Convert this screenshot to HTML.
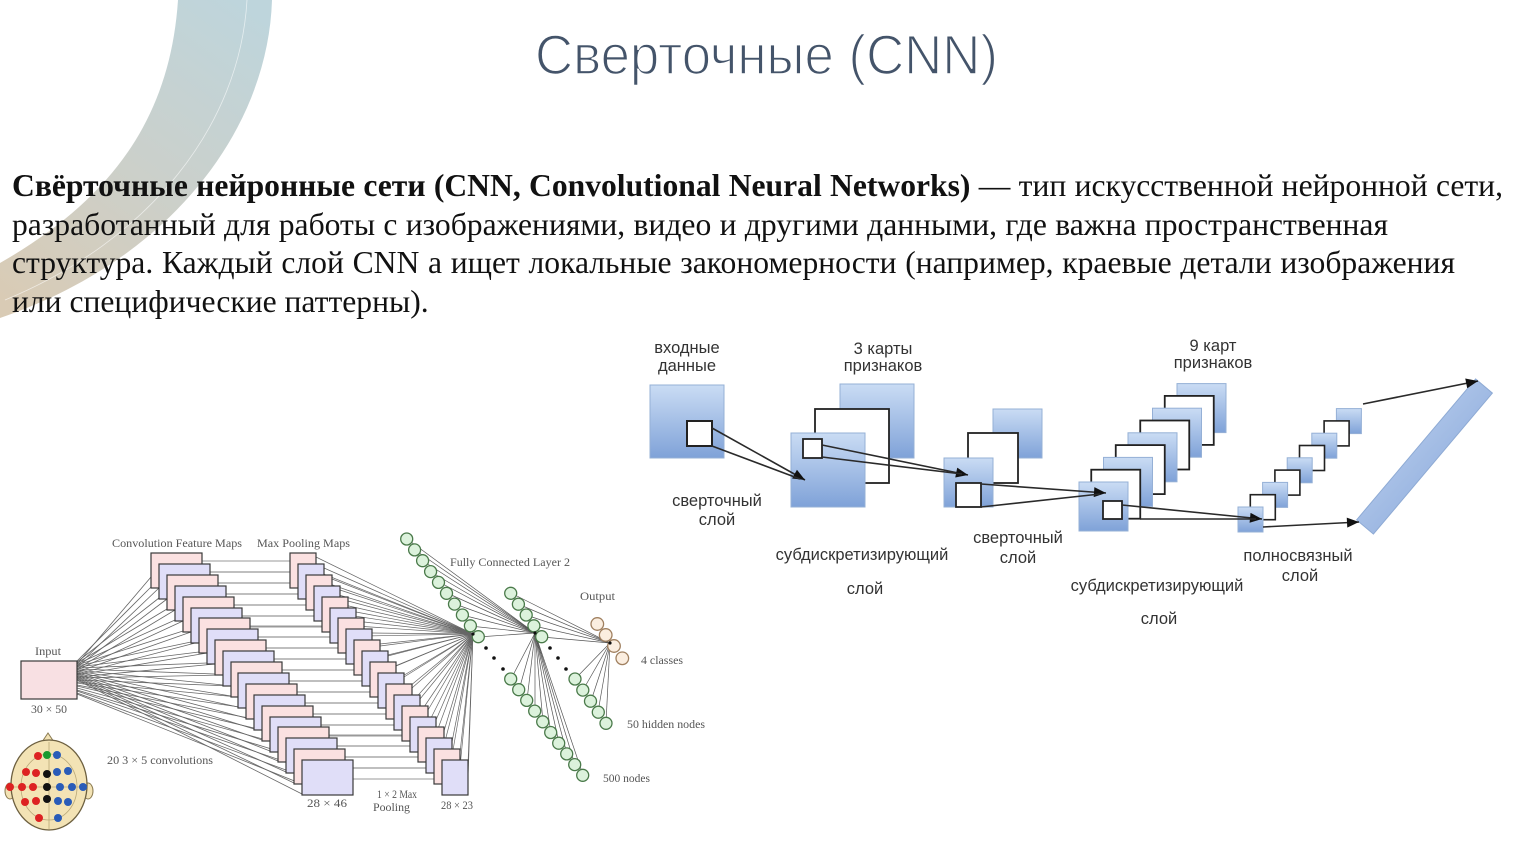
<!DOCTYPE html>
<html><head><meta charset="utf-8">
<style>
html,body{margin:0;padding:0;background:#fff;}
body{width:1533px;height:864px;position:relative;overflow:hidden;}
.ln{position:absolute;left:12px;font-family:"Liberation Serif","DejaVu Serif",serif;font-size:31.6px;line-height:38.5px;color:#111;white-space:nowrap;}
.j{text-align:justify;text-align-last:justify;}
svg{position:absolute;left:0;top:0;}
</style></head><body>
<svg width="1533" height="864" viewBox="0 0 1533 864" xmlns="http://www.w3.org/2000/svg">
<defs>
<linearGradient id="arcg" gradientUnits="userSpaceOnUse" x1="240" y1="0" x2="20" y2="310">
<stop offset="0" stop-color="#bed5dc"/><stop offset="0.5" stop-color="#cbd0cb"/><stop offset="1" stop-color="#d9cbb5"/>
</linearGradient>
<linearGradient id="bl" x1="0" y1="0" x2="0" y2="1">
<stop offset="0" stop-color="#cadcf4"/><stop offset="1" stop-color="#7fa2d8"/>
</linearGradient>
<linearGradient id="barg" x1="0" y1="0" x2="1" y2="1">
<stop offset="0" stop-color="#c8daf3"/><stop offset="1" stop-color="#7e9fd6"/>
</linearGradient>
<marker id="ah" viewBox="0 0 12 10" refX="12" refY="5" markerWidth="13" markerHeight="10" markerUnits="userSpaceOnUse" orient="auto">
<path d="M0,0 L12,5 L0,10 z" fill="#111"/>
</marker>
</defs>

<!-- decorative arc -->
<path d="M272,0 C268,130 170,260 0,318 L0,263 C110,200 170,120 178,0 Z" fill="url(#arcg)"/>
<path d="M247,0 C240,125 150,240 5,300" fill="none" stroke="#fff" stroke-width="0.8" opacity="0.6"/>

<!-- title -->
<text x="535" y="74" font-family="Liberation Sans, sans-serif" font-size="56" fill="#44546a" stroke="#fff" stroke-width="1.6" textLength="463" lengthAdjust="spacingAndGlyphs">Сверточные (CNN)</text>

<!-- ============ RIGHT DIAGRAM ============ -->
<g font-family="Liberation Sans, DejaVu Sans, sans-serif" font-size="16.5" fill="#333" text-anchor="middle">
<text x="687" y="353">входные</text>
<text x="687" y="371">данные</text>
<text x="883" y="354">3 карты</text>
<text x="883" y="371">признаков</text>
<text x="1213" y="351">9 карт</text>
<text x="1213" y="368">признаков</text>
<text x="717" y="506">сверточный</text>
<text x="717" y="525">слой</text>
<text x="862" y="560">субдискретизирующий</text>
<text x="865" y="594">слой</text>
<text x="1018" y="543">сверточный</text>
<text x="1018" y="563">слой</text>
<text x="1157" y="591">субдискретизирующий</text>
<text x="1159" y="624">слой</text>
<text x="1298" y="561">полносвязный</text>
<text x="1300" y="581">слой</text>
</g>

<g stroke="#95b0d6" stroke-width="1">
<rect x="650" y="385" width="74" height="73" fill="url(#bl)"/>
<rect x="840" y="384" width="74" height="74" fill="url(#bl)"/>
</g>
<rect x="815" y="409" width="74" height="74" fill="#fff" stroke="#222" stroke-width="1.8"/>
<rect x="791" y="433" width="74" height="74" fill="url(#bl)" stroke="#95b0d6"/>
<rect x="687" y="421" width="25" height="25" fill="#fff" stroke="#222" stroke-width="2"/>
<rect x="803" y="439" width="19" height="19" fill="#fff" stroke="#222" stroke-width="1.8"/>

<rect x="993" y="409" width="49" height="49" fill="url(#bl)" stroke="#95b0d6"/>
<rect x="968" y="433" width="50" height="50" fill="#fff" stroke="#222" stroke-width="1.8"/>
<rect x="944" y="458" width="49" height="49" fill="url(#bl)" stroke="#95b0d6"/>
<rect x="956" y="483" width="25" height="24" fill="#fff" stroke="#222" stroke-width="1.8"/>

<!-- stage 3 -->
<rect x="1177" y="383.6" width="49" height="49" fill="url(#bl)" stroke="#95b0d6"/>
<rect x="1164.75" y="395.9" width="49" height="49" fill="#fff" stroke="#222" stroke-width="1.8"/>
<rect x="1152.5" y="408.2" width="49" height="49" fill="url(#bl)" stroke="#95b0d6"/>
<rect x="1140.25" y="420.5" width="49" height="49" fill="#fff" stroke="#222" stroke-width="1.8"/>
<rect x="1128" y="432.8" width="49" height="49" fill="url(#bl)" stroke="#95b0d6"/>
<rect x="1115.75" y="445.1" width="49" height="49" fill="#fff" stroke="#222" stroke-width="1.8"/>
<rect x="1103.5" y="457.4" width="49" height="49" fill="url(#bl)" stroke="#95b0d6"/>
<rect x="1091.25" y="469.7" width="49" height="49" fill="#fff" stroke="#222" stroke-width="1.8"/>
<rect x="1079" y="482" width="49" height="49" fill="url(#bl)" stroke="#95b0d6"/>
<rect x="1103" y="501" width="19" height="18" fill="#fff" stroke="#222" stroke-width="1.8"/>

<!-- stage 4 -->
<rect x="1336.4" y="408.6" width="25" height="25" fill="url(#bl)" stroke="#95b0d6"/>
<rect x="1324.1" y="420.9" width="25" height="25" fill="#fff" stroke="#222" stroke-width="1.6"/>
<rect x="1311.8" y="433.2" width="25" height="25" fill="url(#bl)" stroke="#95b0d6"/>
<rect x="1299.5" y="445.5" width="25" height="25" fill="#fff" stroke="#222" stroke-width="1.6"/>
<rect x="1287.2" y="457.8" width="25" height="25" fill="url(#bl)" stroke="#95b0d6"/>
<rect x="1274.9" y="470.1" width="25" height="25" fill="#fff" stroke="#222" stroke-width="1.6"/>
<rect x="1262.6" y="482.4" width="25" height="25" fill="url(#bl)" stroke="#95b0d6"/>
<rect x="1250.3" y="494.7" width="25" height="25" fill="#fff" stroke="#222" stroke-width="1.6"/>
<rect x="1238" y="507" width="25" height="25" fill="url(#bl)" stroke="#95b0d6"/>

<polygon points="1356.6,519.9 1373.4,534.1 1492.4,393.1 1475.6,378.9" fill="url(#barg)" stroke="#8eaad4"/>

<g stroke="#2a2a2a" stroke-width="1.6" fill="none">
<line x1="712" y1="428" x2="805" y2="480" marker-end="url(#ah)"/>
<line x1="712" y1="446" x2="800" y2="479"/>
<line x1="822" y1="445" x2="968" y2="475" marker-end="url(#ah)"/>
<line x1="822" y1="457" x2="962" y2="474"/>
<line x1="981" y1="484" x2="1106" y2="493" marker-end="url(#ah)"/>
<line x1="981" y1="507" x2="1100" y2="494"/>
<line x1="1122" y1="505" x2="1262" y2="519" marker-end="url(#ah)"/>
<line x1="1140" y1="519" x2="1256" y2="519"/>
<line x1="1263" y1="527" x2="1359" y2="522" marker-end="url(#ah)"/>
<line x1="1363" y1="404" x2="1478" y2="381" marker-end="url(#ah)"/>
</g>

<!-- ============ LEFT DIAGRAM ============ -->
<g stroke="#666" stroke-width="0.8">
<line x1="77" y1="661" x2="151" y2="587"/><line x1="77" y1="664" x2="151" y2="577"/>
<line x1="77" y1="662" x2="159" y2="598"/><line x1="77" y1="666" x2="159" y2="588"/>
<line x1="77" y1="663" x2="167" y2="609"/><line x1="77" y1="667" x2="167" y2="599"/>
<line x1="77" y1="664" x2="175" y2="620"/><line x1="77" y1="669" x2="175" y2="610"/>
<line x1="77" y1="665" x2="183" y2="631"/><line x1="77" y1="670" x2="183" y2="621"/>
<line x1="77" y1="666" x2="191" y2="642"/><line x1="77" y1="672" x2="191" y2="632"/>
<line x1="77" y1="667" x2="199" y2="652"/><line x1="77" y1="674" x2="199" y2="642"/>
<line x1="77" y1="668" x2="207" y2="663"/><line x1="77" y1="675" x2="207" y2="653"/>
<line x1="77" y1="669" x2="215" y2="674"/><line x1="77" y1="677" x2="215" y2="664"/>
<line x1="77" y1="670" x2="223" y2="685"/><line x1="77" y1="678" x2="223" y2="675"/>
<line x1="77" y1="671" x2="231" y2="696"/><line x1="77" y1="680" x2="231" y2="686"/>
<line x1="77" y1="672" x2="238" y2="707"/><line x1="77" y1="682" x2="238" y2="697"/>
<line x1="77" y1="673" x2="246" y2="718"/><line x1="77" y1="683" x2="246" y2="708"/>
<line x1="77" y1="674" x2="254" y2="729"/><line x1="77" y1="685" x2="254" y2="719"/>
<line x1="77" y1="675" x2="262" y2="740"/><line x1="77" y1="686" x2="262" y2="730"/>
<line x1="77" y1="676" x2="270" y2="751"/><line x1="77" y1="688" x2="270" y2="741"/>
<line x1="77" y1="677" x2="278" y2="761"/><line x1="77" y1="690" x2="278" y2="751"/>
<line x1="77" y1="678" x2="286" y2="772"/><line x1="77" y1="691" x2="286" y2="762"/>
<line x1="77" y1="679" x2="294" y2="783"/><line x1="77" y1="693" x2="294" y2="773"/>
<line x1="77" y1="680" x2="302" y2="794"/><line x1="77" y1="694" x2="302" y2="784"/>
</g>
<g stroke="#777" stroke-width="0.8">
<line x1="202" y1="561" x2="290" y2="561"/><line x1="202" y1="572" x2="290" y2="572"/>
<line x1="210" y1="572" x2="298" y2="572"/><line x1="210" y1="583" x2="298" y2="583"/>
<line x1="218" y1="583" x2="306" y2="583"/><line x1="218" y1="594" x2="306" y2="594"/>
<line x1="226" y1="594" x2="314" y2="594"/><line x1="226" y1="605" x2="314" y2="605"/>
<line x1="234" y1="605" x2="322" y2="605"/><line x1="234" y1="616" x2="322" y2="616"/>
<line x1="242" y1="616" x2="330" y2="616"/><line x1="242" y1="627" x2="330" y2="627"/>
<line x1="250" y1="626" x2="338" y2="626"/><line x1="250" y1="637" x2="338" y2="637"/>
<line x1="258" y1="637" x2="346" y2="637"/><line x1="258" y1="648" x2="346" y2="648"/>
<line x1="266" y1="648" x2="354" y2="648"/><line x1="266" y1="659" x2="354" y2="659"/>
<line x1="274" y1="659" x2="362" y2="659"/><line x1="274" y1="670" x2="362" y2="670"/>
<line x1="282" y1="670" x2="370" y2="670"/><line x1="282" y1="681" x2="370" y2="681"/>
<line x1="289" y1="681" x2="378" y2="681"/><line x1="289" y1="692" x2="378" y2="692"/>
<line x1="297" y1="692" x2="386" y2="692"/><line x1="297" y1="703" x2="386" y2="703"/>
<line x1="305" y1="703" x2="394" y2="703"/><line x1="305" y1="714" x2="394" y2="714"/>
<line x1="313" y1="714" x2="402" y2="714"/><line x1="313" y1="725" x2="402" y2="725"/>
<line x1="321" y1="725" x2="410" y2="725"/><line x1="321" y1="736" x2="410" y2="736"/>
<line x1="329" y1="735" x2="418" y2="735"/><line x1="329" y1="746" x2="418" y2="746"/>
<line x1="337" y1="746" x2="426" y2="746"/><line x1="337" y1="757" x2="426" y2="757"/>
<line x1="345" y1="757" x2="434" y2="757"/><line x1="345" y1="768" x2="434" y2="768"/>
<line x1="353" y1="768" x2="442" y2="768"/><line x1="353" y1="779" x2="442" y2="779"/>
</g>
<g stroke="#666" stroke-width="0.7">
<line x1="316" y1="557" x2="473" y2="634"/><line x1="316" y1="571" x2="473" y2="634"/>
<line x1="324" y1="568" x2="473" y2="634"/><line x1="324" y1="582" x2="473" y2="634"/>
<line x1="332" y1="579" x2="473" y2="634"/><line x1="332" y1="593" x2="473" y2="634"/>
<line x1="340" y1="590" x2="473" y2="634"/><line x1="340" y1="604" x2="473" y2="634"/>
<line x1="348" y1="601" x2="473" y2="634"/><line x1="348" y1="615" x2="473" y2="634"/>
<line x1="356" y1="612" x2="473" y2="634"/><line x1="356" y1="626" x2="473" y2="634"/>
<line x1="364" y1="622" x2="473" y2="634"/><line x1="364" y1="636" x2="473" y2="634"/>
<line x1="372" y1="633" x2="473" y2="634"/><line x1="372" y1="647" x2="473" y2="634"/>
<line x1="380" y1="644" x2="473" y2="634"/><line x1="380" y1="658" x2="473" y2="634"/>
<line x1="388" y1="655" x2="473" y2="634"/><line x1="388" y1="669" x2="473" y2="634"/>
<line x1="396" y1="666" x2="473" y2="634"/><line x1="396" y1="680" x2="473" y2="634"/>
<line x1="404" y1="677" x2="473" y2="634"/><line x1="404" y1="691" x2="473" y2="634"/>
<line x1="412" y1="688" x2="473" y2="634"/><line x1="412" y1="702" x2="473" y2="634"/>
<line x1="420" y1="699" x2="473" y2="634"/><line x1="420" y1="713" x2="473" y2="634"/>
<line x1="428" y1="710" x2="473" y2="634"/><line x1="428" y1="724" x2="473" y2="634"/>
<line x1="436" y1="720" x2="473" y2="634"/><line x1="436" y1="734" x2="473" y2="634"/>
<line x1="444" y1="731" x2="473" y2="634"/><line x1="444" y1="745" x2="473" y2="634"/>
<line x1="452" y1="742" x2="473" y2="634"/><line x1="452" y1="756" x2="473" y2="634"/>
<line x1="460" y1="753" x2="473" y2="634"/><line x1="460" y1="767" x2="473" y2="634"/>
<line x1="468" y1="764" x2="473" y2="634"/><line x1="468" y1="778" x2="473" y2="634"/>
</g>
<g stroke="#555" stroke-width="0.7">
<line x1="407" y1="539" x2="535" y2="633"/><line x1="415" y1="550" x2="535" y2="633"/>
<line x1="423" y1="561" x2="535" y2="633"/><line x1="431" y1="572" x2="535" y2="633"/>
<line x1="439" y1="582" x2="535" y2="633"/><line x1="447" y1="593" x2="535" y2="633"/>
<line x1="455" y1="604" x2="535" y2="633"/><line x1="462" y1="615" x2="535" y2="633"/>
<line x1="470" y1="626" x2="535" y2="633"/><line x1="478" y1="637" x2="535" y2="633"/>
<line x1="535" y1="633" x2="511" y2="679"/><line x1="535" y1="633" x2="519" y2="690"/>
<line x1="535" y1="633" x2="527" y2="700"/><line x1="535" y1="633" x2="535" y2="711"/>
<line x1="535" y1="633" x2="543" y2="722"/><line x1="535" y1="633" x2="551" y2="733"/>
<line x1="535" y1="633" x2="559" y2="743"/><line x1="535" y1="633" x2="567" y2="754"/>
<line x1="535" y1="633" x2="575" y2="765"/><line x1="535" y1="633" x2="583" y2="775"/>
<line x1="511" y1="593" x2="610" y2="643"/><line x1="518" y1="604" x2="610" y2="643"/>
<line x1="526" y1="615" x2="610" y2="643"/><line x1="534" y1="626" x2="610" y2="643"/>
<line x1="542" y1="637" x2="610" y2="643"/>
<line x1="610" y1="643" x2="575" y2="679"/><line x1="610" y1="643" x2="583" y2="690"/>
<line x1="610" y1="643" x2="591" y2="701"/><line x1="610" y1="643" x2="598" y2="712"/>
<line x1="610" y1="643" x2="606" y2="723"/>
</g>

<g stroke="#3a3a3a" stroke-width="1.2">
<rect x="151" y="553" width="51" height="35" fill="#fbe1e1"/>
<rect x="159" y="564" width="51" height="35" fill="#e0def8"/>
<rect x="167" y="575" width="51" height="35" fill="#fbe1e1"/>
<rect x="175" y="586" width="51" height="35" fill="#e0def8"/>
<rect x="183" y="597" width="51" height="35" fill="#fbe1e1"/>
<rect x="191" y="608" width="51" height="35" fill="#e0def8"/>
<rect x="199" y="618" width="51" height="35" fill="#fbe1e1"/>
<rect x="207" y="629" width="51" height="35" fill="#e0def8"/>
<rect x="215" y="640" width="51" height="35" fill="#fbe1e1"/>
<rect x="223" y="651" width="51" height="35" fill="#e0def8"/>
<rect x="231" y="662" width="51" height="35" fill="#fbe1e1"/>
<rect x="238" y="673" width="51" height="35" fill="#e0def8"/>
<rect x="246" y="684" width="51" height="35" fill="#fbe1e1"/>
<rect x="254" y="695" width="51" height="35" fill="#e0def8"/>
<rect x="262" y="706" width="51" height="35" fill="#fbe1e1"/>
<rect x="270" y="717" width="51" height="35" fill="#e0def8"/>
<rect x="278" y="727" width="51" height="35" fill="#fbe1e1"/>
<rect x="286" y="738" width="51" height="35" fill="#e0def8"/>
<rect x="294" y="749" width="51" height="35" fill="#fbe1e1"/>
<rect x="302" y="760" width="51" height="35" fill="#e0def8"/>
</g>
<g stroke="#3a3a3a" stroke-width="1.2">
<rect x="290" y="553" width="26" height="35" fill="#fbe1e1"/>
<rect x="298" y="564" width="26" height="35" fill="#e0def8"/>
<rect x="306" y="575" width="26" height="35" fill="#fbe1e1"/>
<rect x="314" y="586" width="26" height="35" fill="#e0def8"/>
<rect x="322" y="597" width="26" height="35" fill="#fbe1e1"/>
<rect x="330" y="608" width="26" height="35" fill="#e0def8"/>
<rect x="338" y="618" width="26" height="35" fill="#fbe1e1"/>
<rect x="346" y="629" width="26" height="35" fill="#e0def8"/>
<rect x="354" y="640" width="26" height="35" fill="#fbe1e1"/>
<rect x="362" y="651" width="26" height="35" fill="#e0def8"/>
<rect x="370" y="662" width="26" height="35" fill="#fbe1e1"/>
<rect x="378" y="673" width="26" height="35" fill="#e0def8"/>
<rect x="386" y="684" width="26" height="35" fill="#fbe1e1"/>
<rect x="394" y="695" width="26" height="35" fill="#e0def8"/>
<rect x="402" y="706" width="26" height="35" fill="#fbe1e1"/>
<rect x="410" y="717" width="26" height="35" fill="#e0def8"/>
<rect x="418" y="727" width="26" height="35" fill="#fbe1e1"/>
<rect x="426" y="738" width="26" height="35" fill="#e0def8"/>
<rect x="434" y="749" width="26" height="35" fill="#fbe1e1"/>
<rect x="442" y="760" width="26" height="35" fill="#e0def8"/>
</g>
<rect x="21" y="661" width="56" height="38" fill="#f8e0e3" stroke="#3a3a3a" stroke-width="1.2"/>

<g fill="#dcf2dc" stroke="#4a7a4a" stroke-width="1.3">
<circle cx="406.7" cy="539" r="6"/><circle cx="414.6" cy="549.9" r="6"/>
<circle cx="422.6" cy="560.7" r="6"/><circle cx="430.6" cy="571.6" r="6"/>
<circle cx="438.5" cy="582.4" r="6"/><circle cx="446.5" cy="593.3" r="6"/>
<circle cx="454.5" cy="604.1" r="6"/><circle cx="462.4" cy="615" r="6"/>
<circle cx="470.4" cy="625.8" r="6"/><circle cx="478.3" cy="636.7" r="6"/>
<circle cx="510.7" cy="679" r="6"/><circle cx="518.7" cy="689.7" r="6"/>
<circle cx="526.7" cy="700.4" r="6"/><circle cx="534.7" cy="711.1" r="6"/>
<circle cx="542.7" cy="721.8" r="6"/><circle cx="550.7" cy="732.5" r="6"/>
<circle cx="558.7" cy="743.2" r="6"/><circle cx="566.7" cy="753.9" r="6"/>
<circle cx="574.7" cy="764.6" r="6"/><circle cx="582.7" cy="775.3" r="6"/>
<circle cx="510.7" cy="593.3" r="6"/><circle cx="518.4" cy="604.2" r="6"/>
<circle cx="526.2" cy="615" r="6"/><circle cx="533.9" cy="625.8" r="6"/>
<circle cx="541.7" cy="636.7" r="6"/>
<circle cx="575" cy="679" r="6"/><circle cx="582.8" cy="690.1" r="6"/>
<circle cx="590.5" cy="701.2" r="6"/><circle cx="598.3" cy="712.2" r="6"/>
<circle cx="606" cy="723.3" r="6"/>
</g>
<g fill="#fbeee0" stroke="#a08060" stroke-width="1.3">
<circle cx="597.3" cy="624" r="6.3"/><circle cx="605.7" cy="635" r="6.3"/>
<circle cx="614" cy="646" r="6.3"/><circle cx="622.3" cy="658.3" r="6.3"/>
</g>
<g fill="#111">
<circle cx="486" cy="648" r="1.8"/><circle cx="494" cy="658" r="1.8"/><circle cx="503" cy="669" r="1.8"/>
<circle cx="550" cy="648" r="1.8"/><circle cx="558" cy="658" r="1.8"/><circle cx="566" cy="669" r="1.8"/>
<circle cx="473" cy="634" r="1.6"/><circle cx="535" cy="633" r="1.6"/><circle cx="610" cy="643" r="1.6"/>
</g>

<g font-family="Liberation Serif, DejaVu Serif, serif" font-size="11.5" fill="#555">
<text x="112" y="547" textLength="130" lengthAdjust="spacingAndGlyphs">Convolution Feature Maps</text>
<text x="257" y="547" textLength="93" lengthAdjust="spacingAndGlyphs">Max Pooling Maps</text>
<text x="35" y="655" textLength="26" lengthAdjust="spacingAndGlyphs">Input</text>
<text x="31" y="713" textLength="36" lengthAdjust="spacingAndGlyphs">30 × 50</text>
<text x="107" y="764" textLength="106" lengthAdjust="spacingAndGlyphs">20 3 × 5 convolutions</text>
<text x="307" y="807" textLength="40" lengthAdjust="spacingAndGlyphs">28 × 46</text>
<text x="377" y="798" textLength="40" lengthAdjust="spacingAndGlyphs">1 × 2 Max</text>
<text x="373" y="811" textLength="37" lengthAdjust="spacingAndGlyphs">Pooling</text>
<text x="441" y="809" textLength="32" lengthAdjust="spacingAndGlyphs">28 × 23</text>
<text x="450" y="566" textLength="120" lengthAdjust="spacingAndGlyphs">Fully Connected Layer 2</text>
<text x="580" y="600" textLength="35" lengthAdjust="spacingAndGlyphs">Output</text>
<text x="641" y="664" textLength="42" lengthAdjust="spacingAndGlyphs">4 classes</text>
<text x="627" y="728" textLength="78" lengthAdjust="spacingAndGlyphs">50 hidden nodes</text>
<text x="603" y="782" textLength="47" lengthAdjust="spacingAndGlyphs">500 nodes</text>
</g>

<g>
<ellipse cx="10" cy="791" rx="5" ry="8" fill="#f3e3b5" stroke="#8a7a50" stroke-width="1"/>
<ellipse cx="88" cy="791" rx="5" ry="8" fill="#f3e3b5" stroke="#8a7a50" stroke-width="1"/>
<path d="M42,742 L48,733 L54,742 Z" fill="#f3e3b5" stroke="#8a7a50" stroke-width="1"/>
<ellipse cx="49" cy="785" rx="38" ry="45" fill="#f3e3b5" stroke="#6d6040" stroke-width="1.3"/>
<ellipse cx="49" cy="787" rx="28" ry="33" fill="none" stroke="#b8a878" stroke-width="0.8"/>
<line x1="49" y1="742" x2="49" y2="829" stroke="#b8a878" stroke-width="0.8"/>
<line x1="11" y1="787" x2="87" y2="787" stroke="#b8a878" stroke-width="0.8"/>
<g fill="#d22">
<circle cx="38" cy="756" r="4"/><circle cx="26" cy="772" r="4"/><circle cx="36" cy="773" r="4"/>
<circle cx="10" cy="787" r="4"/><circle cx="22" cy="787" r="4"/><circle cx="33" cy="787" r="4"/>
<circle cx="25" cy="802" r="4"/><circle cx="36" cy="801" r="4"/><circle cx="39" cy="818" r="4"/>
</g>
<g fill="#2a5cb8">
<circle cx="57" cy="755" r="4"/><circle cx="57" cy="772" r="4"/><circle cx="68" cy="771" r="4"/>
<circle cx="60" cy="787" r="4"/><circle cx="72" cy="787" r="4"/><circle cx="83" cy="787" r="4"/>
<circle cx="58" cy="801" r="4"/><circle cx="68" cy="802" r="4"/><circle cx="58" cy="818" r="4"/>
</g>
<g fill="#111">
<circle cx="47" cy="774" r="4"/><circle cx="47" cy="787" r="4"/><circle cx="47" cy="799" r="4"/>
</g>
<circle cx="47" cy="755" r="4" fill="#1a9a30"/>
</g>
</svg>

<div class="ln j" style="top:167px;width:1491px;"><b>Свёрточные нейронные сети (CNN, Convolutional Neural Networks)</b> — тип искусственной нейронной сети,</div>
<div class="ln j" style="top:205.5px;width:1376px;">разработанный для работы с изображениями, видео и другими данными, где важна пространственная</div>
<div class="ln j" style="top:244px;width:1443px;">структура. Каждый слой CNN а ищет локальные закономерности (например, краевые детали изображения</div>
<div class="ln" style="top:282.5px;">или специфические паттерны).</div>
</body></html>
